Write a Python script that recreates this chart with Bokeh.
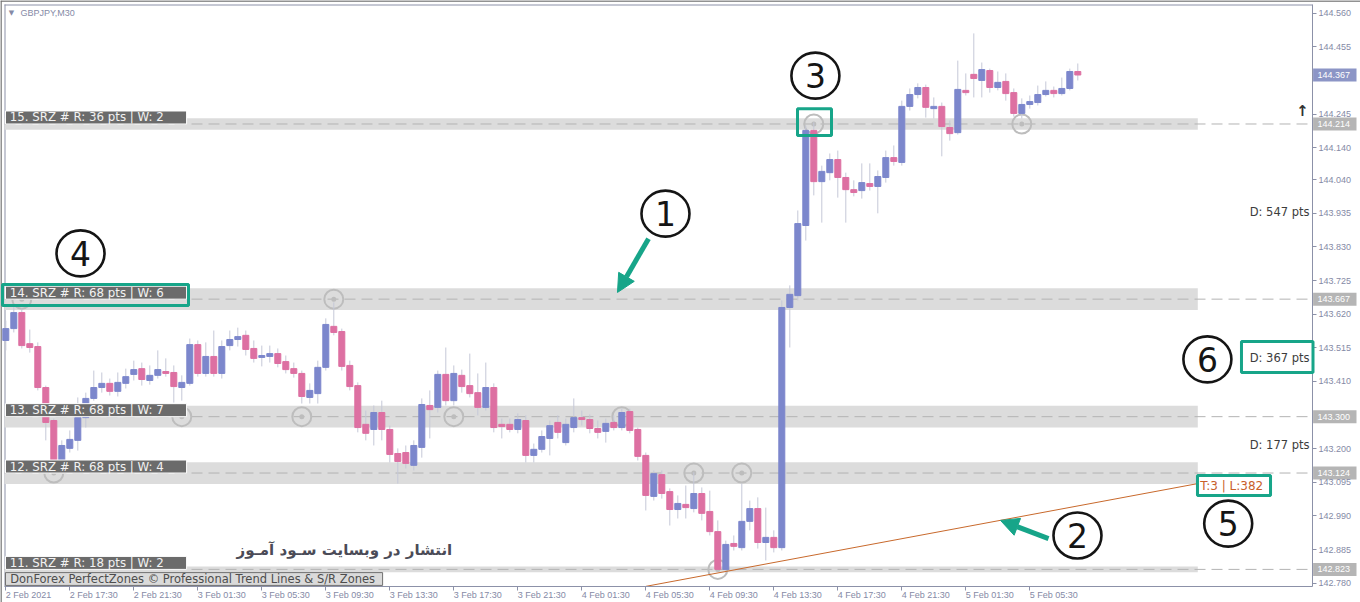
import numpy as np
from bokeh.plotting import figure
from bokeh.models import (ColumnDataSource, Range1d, FixedTicker, NumeralTickFormatter, LinearAxis,
                          Label, Arrow, NormalHead, BoxAnnotation)
from bokeh.core.properties import value
from bokeh.embed import file_html
from bokeh.resources import INLINE

# GBPJPY M30 candles, bar 0 = 2 Feb 2021 13:30
opens = [143.538, 143.575, 143.625, 143.528, 143.519, 143.391, 143.288, 143.163, 143.201, 143.226,
         143.297, 143.357, 143.391, 143.404, 143.379, 143.404, 143.432, 143.450, 143.413, 143.429,
         143.441, 143.438, 143.391, 143.404, 143.525, 143.435, 143.488, 143.435, 143.522, 143.541,
         143.554, 143.513, 143.485, 143.488, 143.497, 143.472, 143.450, 143.435, 143.360, 143.372,
         143.454, 143.582, 143.566, 143.460, 143.397, 143.276, 143.260, 143.313, 143.260, 143.185,
         143.188, 143.148, 143.204, 143.335, 143.329, 143.432, 143.350, 143.429, 143.397, 143.375,
         143.329, 143.391, 143.276, 143.276, 143.260, 143.288, 143.179, 143.198, 143.232, 143.282,
         143.219, 143.266, 143.297, 143.291, 143.263, 143.254, 143.282, 143.266, 143.316, 143.260,
         143.179, 143.051, 143.119, 143.066, 143.010, 143.026, 143.013, 143.060, 143.004, 142.941,
         142.823, 142.904, 142.891, 142.973, 143.013, 142.907, 142.923, 142.891, 143.641, 143.678,
         143.897, 144.194, 144.034, 144.062, 144.103, 144.047, 144.009, 144.006, 144.028, 144.019,
         144.047, 144.109, 144.094, 144.269, 144.306, 144.328, 144.262, 144.269, 144.203, 144.187,
         144.319, 144.369, 144.350, 144.381, 144.328, 144.347, 144.312, 144.247, 144.275, 144.281,
         144.306, 144.319, 144.309, 144.325, 144.378]
highs = [143.600, 143.644, 143.638, 143.572, 143.532, 143.397, 143.294, 143.226, 143.257, 143.360,
         143.375, 143.444, 143.438, 143.419, 143.438, 143.450, 143.475, 143.469, 143.460, 143.507,
         143.482, 143.460, 143.429, 143.544, 143.538, 143.532, 143.569, 143.538, 143.569, 143.578,
         143.569, 143.538, 143.522, 143.522, 143.513, 143.491, 143.469, 143.444, 143.404, 143.475,
         143.607, 143.657, 143.575, 143.475, 143.407, 143.319, 143.335, 143.350, 143.272, 143.201,
         143.210, 143.226, 143.357, 143.382, 143.444, 143.516, 143.460, 143.447, 143.497, 143.435,
         143.469, 143.404, 143.294, 143.294, 143.310, 143.304, 143.216, 143.257, 143.288, 143.304,
         143.294, 143.357, 143.319, 143.307, 143.288, 143.294, 143.304, 143.325, 143.325, 143.266,
         143.188, 143.132, 143.132, 143.076, 143.054, 143.085, 143.126, 143.079, 143.069, 142.976,
         142.913, 142.929, 143.091, 143.038, 143.048, 143.016, 142.945, 143.663, 143.710, 143.944,
         144.209, 144.219, 144.084, 144.122, 144.131, 144.062, 144.038, 144.091, 144.091, 144.069,
         144.131, 144.147, 144.287, 144.325, 144.341, 144.337, 144.297, 144.281, 144.225, 144.412,
         144.372, 144.497, 144.406, 144.387, 144.378, 144.372, 144.325, 144.294, 144.303, 144.334,
         144.347, 144.331, 144.359, 144.387, 144.403]
lows = [143.507, 143.563, 143.513, 143.500, 143.382, 143.226, 143.157, 143.154, 143.188, 143.194,
        143.266, 143.350, 143.375, 143.366, 143.363, 143.388, 143.413, 143.397, 143.400, 143.419,
        143.425, 143.344, 143.350, 143.397, 143.425, 143.425, 143.425, 143.419, 143.507, 143.519,
        143.491, 143.469, 143.457, 143.469, 143.454, 143.435, 143.422, 143.341, 143.341, 143.341,
        143.444, 143.554, 143.444, 143.382, 143.251, 143.226, 143.210, 143.226, 143.157, 143.091,
        143.138, 143.132, 143.172, 143.232, 143.313, 143.335, 143.335, 143.375, 143.360, 143.304,
        143.319, 143.251, 143.232, 143.251, 143.248, 143.157, 143.157, 143.188, 143.179, 143.232,
        143.210, 143.251, 143.272, 143.248, 143.232, 143.219, 143.257, 143.257, 143.248, 143.163,
        143.007, 143.038, 143.044, 142.960, 142.982, 142.982, 143.001, 142.976, 142.929, 142.820,
        142.813, 142.882, 142.882, 142.945, 142.888, 142.851, 142.876, 142.882, 143.516, 143.663,
        143.850, 143.991, 143.906, 144.038, 143.984, 143.906, 143.988, 143.981, 144.006, 143.935,
        144.031, 144.084, 144.084, 144.256, 144.294, 144.234, 144.231, 144.113, 144.162, 144.181,
        144.303, 144.297, 144.297, 144.312, 144.319, 144.287, 144.237, 144.231, 144.262, 144.272,
        144.300, 144.297, 144.303, 144.319, 144.350]
closes = [143.575, 143.625, 143.522, 143.516, 143.391, 143.282, 143.163, 143.210, 143.229, 143.297,
          143.357, 143.391, 143.404, 143.379, 143.407, 143.425, 143.447, 143.416, 143.429, 143.447,
          143.435, 143.394, 143.407, 143.525, 143.435, 143.488, 143.435, 143.519, 143.541, 143.550,
          143.510, 143.482, 143.491, 143.497, 143.466, 143.447, 143.435, 143.363, 143.382, 143.454,
          143.588, 143.563, 143.457, 143.394, 143.266, 143.248, 143.313, 143.260, 143.182, 143.160,
          143.154, 143.210, 143.338, 143.322, 143.432, 143.350, 143.435, 143.394, 143.372, 143.329,
          143.391, 143.266, 143.269, 143.260, 143.291, 143.179, 143.198, 143.238, 143.272, 143.251,
          143.276, 143.297, 143.291, 143.263, 143.251, 143.279, 143.266, 143.313, 143.257, 143.176,
          143.054, 143.122, 143.060, 143.010, 143.029, 143.016, 143.060, 142.998, 142.941, 142.823,
          142.901, 142.895, 142.973, 143.013, 142.907, 142.923, 142.891, 143.641, 143.682, 143.903,
          144.194, 144.034, 144.066, 144.103, 144.047, 144.009, 144.000, 144.031, 144.019, 144.050,
          144.109, 144.097, 144.269, 144.306, 144.328, 144.266, 144.269, 144.206, 144.184, 144.322,
          144.312, 144.356, 144.384, 144.328, 144.344, 144.309, 144.247, 144.275, 144.284, 144.306,
          144.319, 144.309, 144.325, 144.378, 144.367]

# time axis labels every 8 bars (4 hours)
label_bars = list(range(0, 129, 8))
time_labels = ["2 Feb 2021", "2 Feb 17:30", "2 Feb 21:30", "3 Feb 01:30", "3 Feb 05:30",
               "3 Feb 09:30", "3 Feb 13:30", "3 Feb 17:30", "3 Feb 21:30", "4 Feb 01:30",
               "4 Feb 05:30", "4 Feb 09:30", "4 Feb 13:30", "4 Feb 17:30", "4 Feb 21:30",
               "5 Feb 01:30", "5 Feb 05:30"]
price_ticks = [144.560, 144.455, 144.245, 144.140, 144.040, 143.935, 143.830, 143.725,
               143.620, 143.515, 143.410, 143.200, 143.095, 142.990, 142.885, 142.780]

# support / resistance zones
zone_ids = [15, 14, 13, 12, 11]
zone_levels = [144.214, 143.667, 143.300, 143.124, 142.823]
zone_range_pts = [36, 68, 68, 68, 18]
zone_weights = [2, 6, 7, 4, 2]
zone_end_bar = 149

# swing touches on the zones
touch_bars = [101, 127, 2, 41, 22, 37, 56, 77, 6, 86, 92, 89]
touch_zone = [15, 15, 14, 14, 13, 13, 13, 13, 12, 12, 12, 11]

# distances between neighbouring zones
distance_labels = ["D: 547 pts", "D: 367 pts", "D: 177 pts"]

# trend line through the lows
trend_bars = [80, 149]
trend_prices = [142.770, 143.091]
trend_label = "T:3 | L:382"
last_price = closes[-1]

# hand-drawn callouts
callout_text = ["1", "2", "3", "4", "5", "6"]
callout_bar = [82.46, 133.96, 101.2, 9.34, 152.8, 150.2]
callout_price = [143.934, 142.929, 144.365, 143.810, 142.966, 143.479]

BULL = "#7c87cc"
BEAR = "#dd70a2"
TEAL = "#17a589"
AXIS = "#8c91a8"
PX = 8.0          # pixels per bar
PY = 320.2        # pixels per price unit
X0, X1 = -0.1625, 163.3375            # chart window in bars
Y_BOTTOM, Y_TOP = 142.7696, 144.5872  # chart window in price

# the canvas reaches past the chart window so the price scale and its tags live inside it
p = figure(width=1360, height=602,
           x_range=Range1d(X0 - 4 / PX, X1 + 48 / PX),
           y_range=Range1d(Y_BOTTOM - 16 / PY, Y_TOP + 4 / PY),
           output_backend="svg", toolbar_location=None,
           x_axis_location=None, y_axis_location=None,
           min_border_left=0, min_border_right=0, min_border_top=0, min_border_bottom=0,
           background_fill_color="white", border_fill_color="white")
p.outline_line_color = None
p.grid.visible = False

xa = LinearAxis(fixed_location=Y_BOTTOM, bounds=(X0, X1), ticker=FixedTicker(ticks=label_bars))
xa.major_label_overrides = {b: t for b, t in zip(label_bars, time_labels)}
ya = LinearAxis(fixed_location=X1, bounds=(Y_BOTTOM, Y_TOP), ticker=FixedTicker(ticks=price_ticks),
                formatter=NumeralTickFormatter(format="0.000"))
for ax in (xa, ya):
    ax.major_label_text_font = "Liberation Sans"
    ax.major_label_text_font_size = "9px"
    ax.major_label_text_color = "#858aa6"
    ax.axis_line_color = AXIS
    ax.major_tick_line_color = AXIS
    ax.major_tick_out = 4
    ax.major_tick_in = 0
    ax.minor_tick_out = 0
    ax.minor_tick_in = 0
# a tiny tilt makes the time labels start at their tick instead of centring on it
xa.major_label_orientation = -1e-6
xa.major_label_standoff = 5
ya.major_label_standoff = 2
p.add_layout(xa, "below")
p.add_layout(ya, "right")

# window frame (left and top edges) and the outer border
p.segment(x0=[X0 + 0.5 / PX, X0], y0=[Y_BOTTOM, Y_TOP - 0.5 / PY],
          x1=[X0 + 0.5 / PX, X1], y1=[Y_TOP, Y_TOP - 0.5 / PY], line_color=AXIS, line_width=1)
p.segment(x0=[X0 - 3.5 / PX, X0 - 4 / PX], y0=[Y_BOTTOM - 16 / PY, Y_TOP + 3.5 / PY],
          x1=[X0 - 3.5 / PX, X1 + 48 / PX], y1=[Y_TOP + 4 / PY, Y_TOP + 3.5 / PY],
          line_color="#6e6e6e", line_width=1.5)

level_of = dict(zip(zone_ids, zone_levels))

# zone bands and their dashed centre lines
half = [r / 2000.0 for r in zone_range_pts]
p.quad(left=[X0] * 5, right=[zone_end_bar] * 5,
       bottom=[l - h for l, h in zip(zone_levels, half)],
       top=[l + h for l, h in zip(zone_levels, half)],
       fill_color="#dcdcdc", line_color=None)
p.segment(x0=[X0] * 5, x1=[X1] * 5, y0=zone_levels, y1=zone_levels,
          line_color="#b3b3b3", line_width=1, line_dash="11 6")

# touch markers
tx = touch_bars
ty = [level_of[z] for z in touch_zone]
p.scatter(tx, ty, size=19, marker="circle", fill_color=None, line_color="#bdbdbd", line_width=2)
p.scatter(tx, ty, size=5, marker="circle", fill_color="#bdbdbd", line_color=None)

# candles
o = np.array(opens); h = np.array(highs); l = np.array(lows); c = np.array(closes)
src = ColumnDataSource(dict(
    x=np.arange(len(o)), high=h, low=l,
    top=np.maximum(o, c), bottom=np.minimum(o, c),
    color=np.where(c >= o, BULL, BEAR)))
p.segment(x0="x", y0="high", x1="x", y1="low", source=src, line_color="#c5c8d8", line_width=1)
p.vbar(x="x", width=0.75, top="top", bottom="bottom", fill_color="color",
       line_color="color", line_width=1, source=src)

# trend line
p.line(trend_bars, trend_prices, line_color="#c8692c", line_width=1)

# zone captions
label_h = 13 / PY
p.quad(left=[-0.04] * 5, right=[22.6] * 5, bottom=zone_levels,
       top=[z + label_h for z in zone_levels], fill_color="#6b6b6b", line_color="white", line_width=1)
p.text(x=[0.5] * 5, y=[z + label_h / 2 for z in zone_levels],
       text=[f"{i}. SRZ # R: {r} pts | W: {w}" for i, r, w in zip(zone_ids, zone_range_pts, zone_weights)],
       text_font=value("DejaVu Sans"), text_font_size="11.8px", text_color="#f2f2f2",
       text_baseline="middle", text_align="left")

# indicator copyright box
p.quad(left=[-0.04], right=[47.1], bottom=[142.773], top=[142.813],
       fill_color="#dadada", line_color="#707070", line_width=1)
p.text(x=[0.55], y=[142.793], text=["DonForex PerfectZones © Professional Trend Lines & S/R Zones"],
       text_font=value("DejaVu Sans"), text_font_size="11.5px", text_color="#4d4d4d",
       text_baseline="middle", text_align="left")

# price tags on the scale: zone levels in grey, last price in blue
tag_levels = zone_levels + [last_price]
tag_colors = ["#b5b5b5"] * len(zone_levels) + ["#8c95c6"]
p.quad(left=[X1 + 0.6 / PX] * len(tag_levels), right=[X1 + 44 / PX] * len(tag_levels),
       bottom=[v - 6.5 / PY for v in tag_levels], top=[v + 6.5 / PY for v in tag_levels],
       fill_color=tag_colors, line_color=None)
p.text(x=[X1 + 5 / PX] * len(tag_levels), y=tag_levels, text=[f"{v:.3f}" for v in tag_levels],
       text_font=value("Liberation Sans"), text_font_size="9px", text_color="white",
       text_baseline="middle", text_align="left")

# symbol caption
p.add_layout(Label(x=0.71, y=144.562, text="▼", text_font="DejaVu Sans", text_font_size="7px",
                   text_color="#858aa6", text_baseline="middle", text_align="center"))
p.add_layout(Label(x=1.84, y=144.562, text="GBPJPY,M30", text_font="Liberation Sans",
                   text_font_size="9px", text_color="#858aa6", text_baseline="middle"))

# watermark
p.add_layout(Label(x=55.8, y=142.884, text="انتشار در وبسایت سـود آمـوز",
                   text_font="DejaVu Sans", text_font_style="bold", text_font_size="15px",
                   text_color="#4b4b57", text_baseline="middle", text_align="right"))

# distances between zones
for i, txt in enumerate(distance_labels):
    mid = (zone_levels[i] + zone_levels[i + 1]) / 2
    p.add_layout(Label(x=X1, y=mid, x_offset=-3, text=txt, text_font="DejaVu Sans",
                       text_font_size="11.5px", text_color="#3c3c3c",
                       text_baseline="middle", text_align="right"))

# trend line caption
p.add_layout(Label(x=trend_bars[1] + 0.3, y=trend_prices[1] - 0.007, text=trend_label,
                   text_font="DejaVu Sans", text_font_size="12px", text_color="#c8602a",
                   text_baseline="middle", text_align="left"))

# nearest zone above marker
p.add_layout(Label(x=X1, y=144.256, x_offset=-10, text="↑", text_font="DejaVu Sans",
                   text_font_style="bold", text_font_size="15px", text_color="#333333",
                   text_baseline="middle", text_align="center"))

# callouts: circled numbers, arrows and boxes
p.ellipse(x=callout_bar, y=callout_price, width=48, height=46, width_units="screen",
          height_units="screen", fill_color=None, line_color="#151515", line_width=2.6)
p.text(x=callout_bar, y=callout_price, text=callout_text, text_font=value("DejaVu Sans"),
       text_font_size="33px", text_color="#151515", text_align="center", text_baseline="middle")

for xs, ys, xe, ye in [(80.34, 143.856, 76.46, 143.688), (130.34, 142.919, 124.34, 142.976)]:
    p.add_layout(Arrow(end=NormalHead(size=18, fill_color=TEAL, line_color=TEAL),
                       x_start=xs, y_start=ys, x_end=xe, y_end=ye,
                       line_color=TEAL, line_width=5))

for left, right, top, bottom in [(98.96, 103.21, 144.262, 144.178),
                                 (-0.41, 22.84, 143.713, 143.647),
                                 (148.96, 158.09, 143.116, 143.054),
                                 (154.46, 163.4, 143.535, 143.438)]:
    p.add_layout(BoxAnnotation(left=left, right=right, top=top, bottom=bottom,
                               fill_color=None, line_color=TEAL, line_width=3, line_alpha=1))

open("out.html", "w").write(file_html(p, INLINE))
